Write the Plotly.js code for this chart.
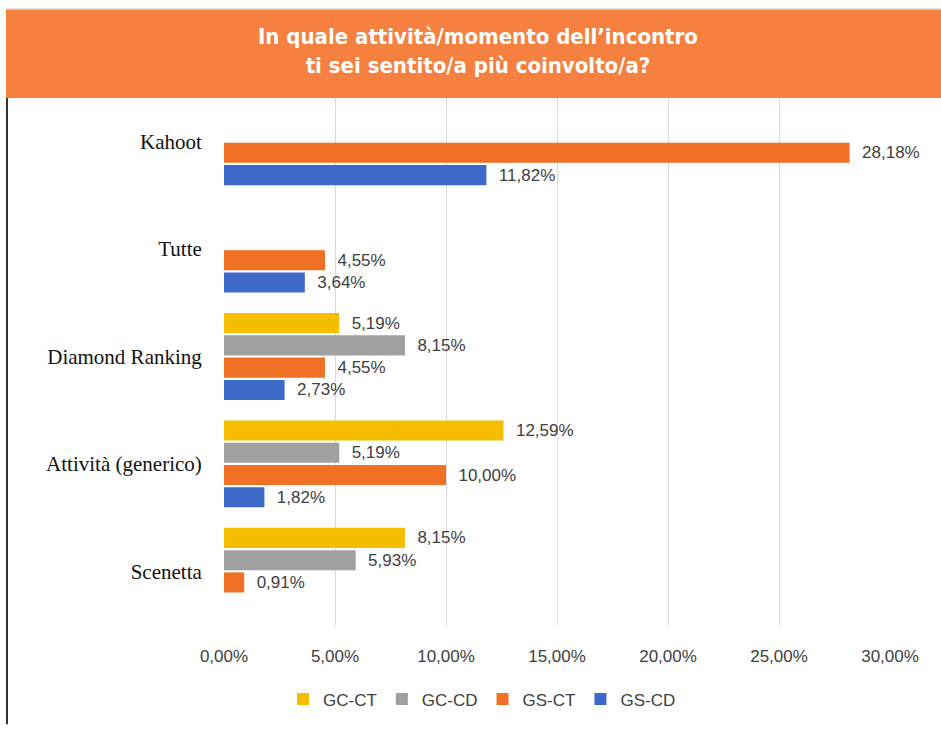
<!DOCTYPE html>
<html>
<head>
<meta charset="utf-8">
<script src="https://cdn.plot.ly/plotly-3.0.1.min.js"></script>
<style>html,body{margin:0;padding:0;background:#fff;}#chart{width:941px;height:729px;}</style>
</head>
<body>
<div id="chart"></div>
<script>
const categories = ["Kahoot", "Tutte", "Diamond Ranking", "Attività (generico)", "Scenetta"];
const seriesNames = ["GC-CT", "GC-CD", "GS-CT", "GS-CD"];
const gcCT = [null, null, 5.19, 12.59, 8.15];
const gcCD = [null, null, 8.15, 5.19, 5.93];
const gsCT = [28.18, 4.55, 4.55, 10.00, 0.91];
const gsCD = [11.82, 3.64, 2.73, 1.82, null];
const xTicks = [0, 5, 10, 15, 20, 25, 30];
const xTickLabels = ["0,00%", "5,00%", "10,00%", "15,00%", "20,00%", "25,00%", "30,00%"];
const titleText = "In quale attività/momento dell’incontro<br>ti sei sentito/a più coinvolto/a?";

const colors = ["#F5BF00", "#A0A0A0", "#F07125", "#3D69C9"];
const values = [gcCT, gcCD, gsCT, gsCD];

const W = 941, H = 729, L = 224, R = 890, T = 88, B = 629;
const px = x => (x - L) / (R - L);
const py = y => (B - y) / (B - T);

const dataFont = {family: "Liberation Sans, Arial, sans-serif", size: 17, color: "#404040"};

const traces = values.map((v, i) => ({
  type: "bar",
  orientation: "h",
  name: seriesNames[i],
  y: categories,
  x: v,
  marker: {color: colors[i]},
  texttemplate: "  %{x:.2f}%",
  textposition: "outside",
  cliponaxis: false,
  textfont: dataFont,
  hoverinfo: "x+name"
}));

const layout = {
  width: W, height: H,
  margin: {l: L, r: W - R, t: T, b: H - B, pad: 0},
  paper_bgcolor: "#ffffff",
  plot_bgcolor: "#ffffff",
  separators: ",.",
  barmode: "group",
  bargap: 0.17,
  bargroupgap: 0.1,
  showlegend: true,
  legend: {
    orientation: "h", x: px(482), xanchor: "center", y: py(704), yanchor: "middle",
    font: {family: "Liberation Sans, Arial, sans-serif", size: 17, color: "#404040"},
    traceorder: "normal", itemwidth: 30
  },
  xaxis: {
    range: [0, 30],
    tickmode: "array",
    tickvals: xTicks,
    ticktext: xTickLabels,
    showgrid: true,
    gridcolor: "#d9d9d9",
    gridwidth: 1,
    zeroline: false,
    showline: false,
    ticks: "outside",
    ticklen: 16,
    tickcolor: "rgba(0,0,0,0)",
    tickfont: {family: "Liberation Sans, Arial, sans-serif", size: 17, color: "#404040"},
    fixedrange: true
  },
  yaxis: {
    autorange: "reversed",
    showgrid: false,
    zeroline: false,
    showline: false,
    ticks: "outside",
    ticklen: 17,
    tickcolor: "rgba(0,0,0,0)",
    tickfont: {family: "Liberation Serif, Times New Roman, serif", size: 21, color: "#111111"},
    fixedrange: true
  },
  shapes: [
    {type: "rect", xref: "paper", yref: "paper", x0: px(6), x1: px(941), y0: py(98), y1: py(9),
     fillcolor: "#F5803F", line: {width: 0}, layer: "above"},
    {type: "line", xref: "paper", yref: "paper", x0: px(6), x1: px(941), y0: py(8.5), y1: py(8.5),
     line: {color: "#bfbfbf", width: 1}},
    {type: "line", xref: "paper", yref: "paper", x0: px(7), x1: px(7), y0: py(98), y1: py(729),
     line: {color: "#333333", width: 2}}
  ],
  annotations: [
    {xref: "paper", yref: "paper", x: px(478), y: py(51), xanchor: "center", yanchor: "middle",
     text: titleText, showarrow: false,
     font: {family: "Liberation Sans Narrow, DejaVu Sans Condensed, Arial Narrow, sans-serif", size: 22, color: "#ffffff", weight: "bold"}}
  ]
};

Plotly.newPlot("chart", traces, layout, {displayModeBar: false, staticPlot: true});
</script>
</body>
</html>
